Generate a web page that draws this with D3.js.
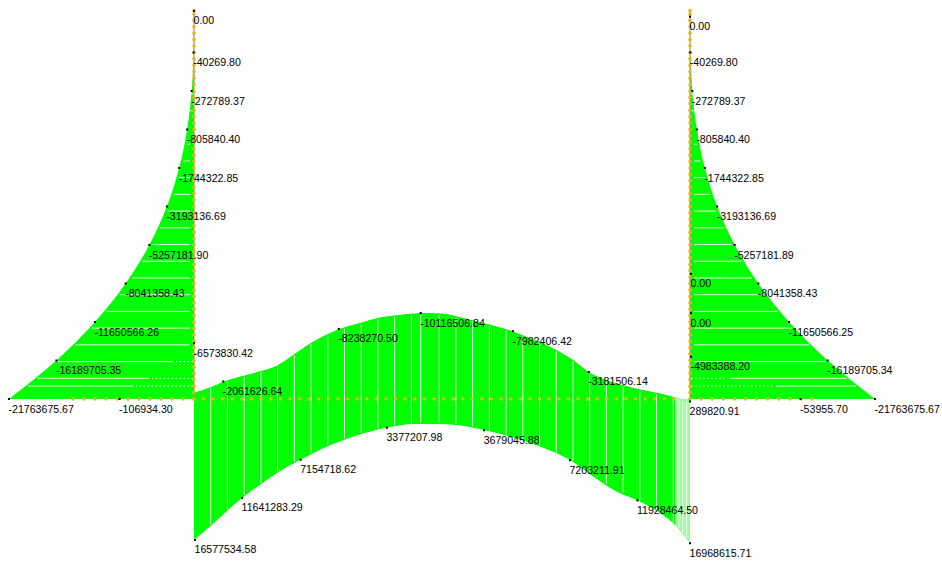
<!DOCTYPE html>
<html>
<head>
<meta charset="utf-8">
<script src="https://cdn.jsdelivr.net/npm/d3@7"></script>
<style>
  html, body { margin: 0; padding: 0; background: #ffffff; }
  svg { display: block; }
  text { font-family: "Liberation Sans", Arial, sans-serif; font-size: 10.6px; fill: #000000; }
</style>
</head>
<body>
<svg id="chart" width="942" height="561"></svg>
<script>
// ---------------- DATA ----------------
// Left column: station heights (storey units from base) and bending moments
const colLeftH = [0, 1, 2, 3, 4, 5, 6, 7, 8, 9, 10.08];
const colLeftM = [-21763675.67, -16189705.35, -11650566.26, -8041358.43, -5257181.90,
                  -3193136.69, -1744322.85, -805840.40, -272789.37, -40269.80, 0.00];
// Right column
const colRightH = [0, 1, 2, 3, 4, 5, 6, 7, 8, 9, 9.93];
const colRightM = [-21763675.67, -16189705.34, -11650566.25, -8041358.43, -5257181.89,
                   -3193136.69, -1744322.85, -805840.40, -272789.37, -40269.80, 0.00];

// Beam: positions in % of span; top (hogging) and bottom (sagging) envelopes
const beamTopPos = [0, 3.2, 5.9, 9.6, 13.3, 16.7, 20.0, 23.4, 26.8, 29.2, 33.5, 37.5, 40.9,
                    45.7, 49.6, 53.6, 57.7, 61.7, 64.3, 67.1, 69.8, 73.1, 76.5, 79.6, 83.2, 86.5,
                    89.9, 93.9, 97.3, 100];
const beamTopM = [-765000, -1376000, -2061626.64, -2706000, -3294000, -3950000,
                  -5200000, -6553000, -7612000, -8238270.50, -8976000, -9612000, -9882000,
                  -10116506.84, -10082000, -9650000, -9050000, -8450000, -7982406.42, -7329000,
                  -6741000, -5765000, -4588000, -3181506.14, -2235000, -1647000, -1141000,
                  -670000, -153000, 289820.91];
const beamBotPos = [0, 3.2, 9.7, 13.3, 16.7, 21.5, 26.8, 32.1, 38.9, 44.2, 49.6, 54.3, 58.5,
                    63.7, 69.8, 75.8, 80.5, 85.2, 89.4, 94.0, 97.3, 100];
const beamBotM = [16577534.58, 15024000, 11641283.29, 10118000, 8741000, 7154718.62, 5612000,
                  4435000, 3377207.98, 2960000, 2960000, 3176000, 3679045.88, 4435000, 5612000,
                  7203211.91, 9141000, 10906000, 11928464.50, 13447000, 15024000, 16968615.71];

// Labelled beam values
const beamTopLabelPos = [5.9, 29.2, 45.7, 64.3, 79.6, 100];
const beamTopLabelM = [-2061626.64, -8238270.50, -10116506.84, -7982406.42, -3181506.14, 289820.91];
const beamBotLabelPos = [0.2, 9.7, 21.5, 38.9, 58.5, 75.8, 89.4, 100];
const beamBotLabelM = [16577534.58, 11641283.29, 7154718.62, 3377207.98, 3679045.88,
                       7203211.91, 11928464.50, 16968615.71];

// Other labelled values drawn on the column lines / base members
const leftColExtraH = [1.45];
const leftColExtraM = [-6573830.42];
const rightColExtraH = [1.1, 2.23, 3.25];
const rightColExtraM = [-4983388.20, 0.00, 0.00];
const baseLabelPos = [-15.0, 122.3];
const baseLabelM = [-106934.30, -53955.70];

// Lighter end zone of the beam (% of span)
const paleFrom = 97.0;

// ---------------- SCALES ----------------
const svg = d3.select("#chart");
const MMAX = 21763675.67;
const mPx = d3.scaleLinear().domain([0, MMAX]).range([0, 185]);
const yCol = d3.scaleLinear().domain([0, 10]).range([399, 14]);
const xBeam = d3.scaleLinear().domain([0, 100]).range([194, 690]);
const yBeam = d3.scaleLinear().domain([0, MMAX]).range([399, 584]);
const colLX = xBeam(0), colRX = xBeam(100), baseY = yBeam(0);

const GREEN = "#00ff00", PALE = "#9cff9c", NODE = "#e6b422";

const leftPts = colLeftH.map((h, i) => ({ h, m: colLeftM[i] }));
const rightPts = colRightH.map((h, i) => ({ h, m: colRightM[i] }));
const topPts = beamTopPos.map((p, i) => ({ p, m: beamTopM[i] }));
const botPts = beamBotPos.map((p, i) => ({ p, m: beamBotM[i] }));

const leftArea = d3.area().curve(d3.curveMonotoneY)
  .y(d => yCol(d.h)).x0(colLX).x1(d => colLX + mPx(d.m));
const rightArea = d3.area().curve(d3.curveMonotoneY)
  .y(d => yCol(d.h)).x0(colRX).x1(d => colRX - mPx(d.m));
const beamArea = d3.area().curve(d3.curveMonotoneX)
  .x(d => xBeam(d.p)).y0(baseY).y1(d => yBeam(d.m));

const defs = svg.append("defs");
defs.append("clipPath").attr("id", "clipL").append("path").attr("d", leftArea(leftPts));
defs.append("clipPath").attr("id", "clipR").append("path").attr("d", rightArea(rightPts));
const cb = defs.append("clipPath").attr("id", "clipB");
cb.append("path").attr("d", beamArea(topPts));
cb.append("path").attr("d", beamArea(botPts));

// ---------------- FILLS ----------------
svg.append("path").attr("d", leftArea(leftPts)).attr("fill", GREEN);
svg.append("path").attr("d", rightArea(rightPts)).attr("fill", GREEN);
const gB = svg.append("g").attr("clip-path", "url(#clipB)");
gB.append("path").attr("d", beamArea(topPts)).attr("fill", GREEN);
gB.append("path").attr("d", beamArea(botPts)).attr("fill", GREEN);
gB.append("rect").attr("x", xBeam(paleFrom)).attr("y", 0)
  .attr("width", xBeam(100) - xBeam(paleFrom)).attr("height", 561).attr("fill", PALE);

// ---------------- HATCH LINES ----------------
const topInterp = d3.scaleLinear().domain(beamTopPos).range(beamTopM);
const botInterp = d3.scaleLinear().domain(beamBotPos).range(beamBotM);
const step = 16.72;
const hatchX = [];
for (let i = 1; i <= 13; i++) hatchX.push(xBeam(0) + i * step);
for (let i = 1; i <= 15; i++) hatchX.push(xBeam(100) - i * step);
hatchX.push(xBeam(45.7));
hatchX.push(xBeam(100) - 11, xBeam(100) - 7.3, xBeam(100) - 3.4);
hatchX.forEach(x => {
  const p = xBeam.invert(x);
  gB.append("line").attr("x1", x).attr("x2", x)
    .attr("y1", yBeam(topInterp(p)) + 1.5).attr("y2", yBeam(botInterp(p)) - 1.5)
    .attr("stroke", "#ffffff").attr("stroke-width", 1).attr("opacity", 0.9);
});

function colHatch(pts, colX, dir, clipId, dotted) {
  const g = svg.append("g").attr("clip-path", `url(#${clipId})`);
  const interp = d3.scaleLinear().domain(pts.map(d => d.h)).range(pts.map(d => d.m));
  const ys = [baseY - 13];
  for (let y = baseY - 20.7; y > 18; y -= step) ys.push(y);
  ys.forEach((y, idx) => {
    const h = yCol.invert(y);
    const xEnd = colX - dir * mPx(interp(h)) - dir * 3;
    const dl = dotted[idx] || 0;
    const xs = colX + dir * 1;
    if (dl > 0) {
      g.append("line").attr("x1", xs).attr("x2", xs + dir * dl).attr("y1", y).attr("y2", y)
        .attr("stroke", "#ffffff").attr("stroke-width", 1).attr("stroke-dasharray", "1.5,2.5");
    }
    g.append("line").attr("x1", xs + dir * (dl + 3)).attr("x2", xEnd).attr("y1", y).attr("y2", y)
      .attr("stroke", "#ffffff").attr("stroke-width", 1).attr("opacity", 0.9);
  });
}
colHatch(leftPts, colLX, -1, "clipL", [57, 41, 17]);
colHatch(rightPts, colRX, 1, "clipR", [82, 36, 0]);

// ---------------- MEMBER LINES & NODES ----------------
[colLX, colRX].forEach(x => {
  svg.append("line").attr("x1", x).attr("x2", x).attr("y1", 10).attr("y2", baseY)
    .attr("stroke", "#c8843c").attr("stroke-width", 1.1);
});
const nodes = [];
[colLX, colRX].forEach(x => {
  for (let i = 0; i <= 60; i++) nodes.push([x, baseY - i * 6.417]);
  nodes.push([x, 10.5]);
});
for (let i = 0; i <= 50; i++) nodes.push([xBeam(0) + i * 9.6, baseY]);
nodes.push([xBeam(100), baseY]);
for (let i = 1; i <= 11; i++) nodes.push([colLX - i * 11, baseY]);
for (let i = 1; i <= 11; i++) nodes.push([colRX + i * 11.1, baseY]);
svg.append("g").selectAll("circle").data(nodes).join("circle")
  .attr("cx", d => d[0]).attr("cy", d => d[1]).attr("r", 1.8).attr("fill", NODE);

// ---------------- LABELS ----------------
const labels = [];
leftPts.forEach(d => labels.push({ x: colLX + mPx(d.m), y: yCol(d.h), m: d.m }));
rightPts.forEach(d => labels.push({ x: colRX - mPx(d.m), y: yCol(d.h), m: d.m }));
beamTopLabelPos.forEach((p, i) => labels.push({ x: xBeam(p), y: yBeam(beamTopLabelM[i]), m: beamTopLabelM[i] }));
beamBotLabelPos.forEach((p, i) => labels.push({ x: xBeam(p), y: yBeam(beamBotLabelM[i]), m: beamBotLabelM[i] }));
leftColExtraH.forEach((h, i) => labels.push({ x: colLX, y: yCol(h), m: leftColExtraM[i] }));
rightColExtraH.forEach((h, i) => labels.push({ x: colRX + 1, y: yCol(h), m: rightColExtraM[i] }));
baseLabelPos.forEach((p, i) => labels.push({ x: xBeam(p), y: baseY, m: baseLabelM[i] }));

const gl = svg.append("g");
gl.selectAll("rect").data(labels).join("rect")
  .attr("x", d => d.x - 1).attr("y", d => d.y - 1).attr("width", 2).attr("height", 2).attr("fill", "#000");
gl.selectAll("text").data(labels).join("text")
  .attr("x", d => d.x - 0.5).attr("y", d => d.y + 13.5)
  .text(d => d.m.toFixed(2));
</script>
</body>
</html>
